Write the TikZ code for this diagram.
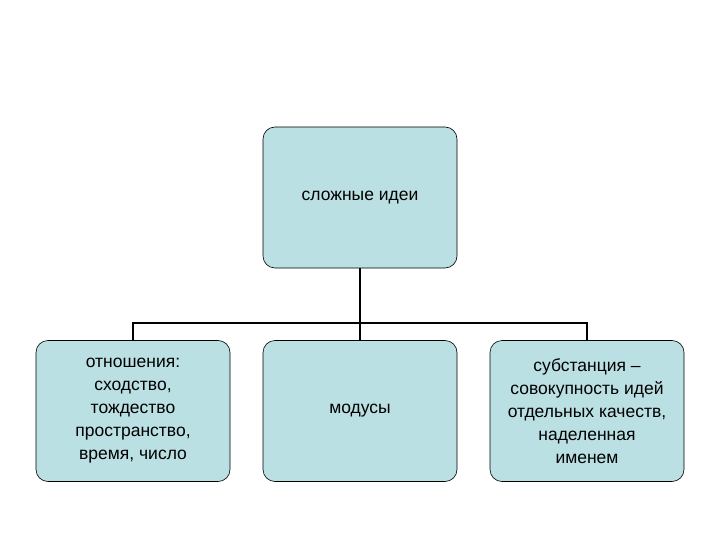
\documentclass[tikz,border=0pt]{standalone}
\usepackage{fontspec}
\setmainfont{Liberation Sans}
\begin{document}
\begin{tikzpicture}[x=1pt,y=-1pt,
  box/.style={draw=black,line width=0.6pt,fill={rgb,255:red,187;green,224;blue,227},rounded corners=12pt,minimum width=194pt,minimum height=141pt,inner sep=1pt,align=center,font=\fontsize{17.5}{23}\selectfont},
  conn/.style={line width=1.5pt}]
\useasboundingbox (0,0) rectangle (720,540);
\node[box] (top) at (360,197.5) {сложные идеи};
\node[box] (l) at (133,411) {отношения:\\сходство,\\тождество\\пространство,\\время, число};
\node[box] (m) at (360,411) {модусы};
\node[box] (r) at (587,411) {субстанция –\\совокупность идей\\отдельных качеств,\\наделенная\\именем};
\coordinate (j) at (360,323);
\draw[conn] (top.south) -- (j);
\draw[conn] (l.north) |- (j) -| (r.north);
\draw[conn] (j) -- (m.north);
\end{tikzpicture}
\end{document}
